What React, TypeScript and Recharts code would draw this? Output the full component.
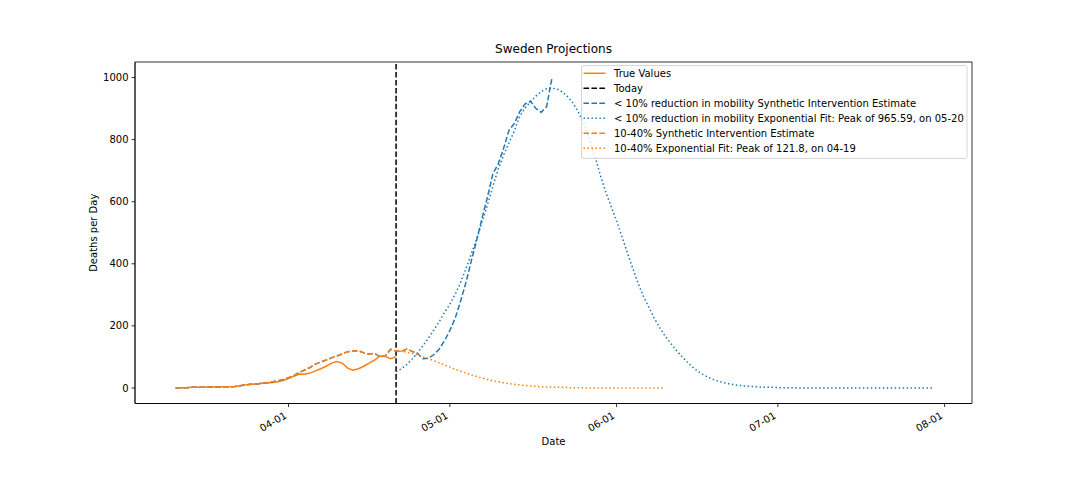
import { LineChart, Line, XAxis, YAxis, ReferenceLine, ReferenceArea } from "recharts"

// month-day labels -> days since 04-01
const monthStart: Record<string, number> = { "03": -31, "04": 0, "05": 30, "06": 61, "07": 91, "08": 122 }
const toDay = (md: string) => monthStart[md.slice(0, 2)] + Number(md.slice(3)) - 1

const tickLabels = ["04-01", "05-01", "06-01", "07-01", "08-01"]
const yTicks = [0, 200, 400, 600, 800, 1000]
const today = "04-21"

const trueStart = "03-11"
const trueValues = [
  1, 1, 1, 2, 2, 2, 3, 3, 3, 4, 4, 5, 7, 10, 12, 13,
  15, 16, 18, 20, 24, 30, 38, 45, 44, 48, 55, 62, 70, 80, 85, 80, 64, 57, 62, 70, 80, 90, 103, 101, 94, 101,
]

const siStart = "03-11"
const lowSIValues = [
  1, 1, 1, 2, 2, 2, 3, 3, 3, 4, 4, 5, 7, 10, 12, 13,
  15, 17, 20, 23, 27, 33, 40, 50, 58, 66, 77, 84, 90, 97, 103, 110, 117, 119, 120, 113, 109, 112, 100, 103, 125, 119, 118, 125, 118, 111,
  94, 96, 107, 125, 152, 185, 225, 280, 340, 410, 477, 548, 615, 690, 722, 772, 830, 852, 890, 915, 924, 900, 888, 907, 999,
]
const midSIValues = [
  1, 1, 1, 2, 2, 2, 3, 3, 3, 4, 4, 5, 7, 10, 12, 13,
  15, 17, 20, 23, 27, 33, 40, 50, 58, 66, 77, 84, 90, 97, 103, 110, 117, 119, 120, 113, 109, 112, 100, 103, 125, 119, 118, 125, 118, 111,
]

const fitStart = "04-21"
const lowFitValues = [
  52, 62, 76, 93, 113, 136, 160, 186, 213, 243, 270, 302, 340, 385, 432, 480, 535, 590, 650, 705, 750, 790, 828, 875, 902, 922, 940, 955, 964, 966,
  962, 953, 937, 915, 885, 850, 800, 745, 685, 630, 585, 538, 488, 436, 386, 338, 295, 260, 225, 195, 168, 145, 124, 104, 86, 69, 55, 44, 35, 27,
  21, 17, 13, 10, 8, 6, 5, 4, 3, 2, 2, 1, 1, 1, 1,
  0, 0, 0, 0, 0, 0, 0, 0, 0, 0, 0, 0, 0, 0, 0, 0, 0, 0, 0, 0, 0, 0, 0, 0, 0, 0,
]
const midFitValues = [
  120, 118, 115, 111, 106, 100, 94, 88, 81, 74, 67, 60, 54, 48, 42, 37, 32, 27, 23, 20, 17, 14, 12, 10, 8, 6, 5, 4, 3, 3,
  2, 2, 1, 1, 1, 1, 0, 0, 0, 0, 0, 0, 0, 0, 0, 0, 0, 0, 0, 0, 0,
]

const series = (start: string, values: number[]) =>
  values.map((value, i) => ({ day: toDay(start) + i, value }))

const blue = "#1f77b4"
const orange = "#ff7f0e"
const dashed = "5.55 2.4"
const dotted = "1.5 2.475"
const font = "'DejaVu Sans', sans-serif"

const xTicks = tickLabels.map(toDay)
const xDomain = [-28.55, 127.1]
const yDomain = [-50, 1050]

const legendItems = [
  { label: "True Values", color: orange, dash: undefined },
  { label: "Today", color: "#000", dash: dashed },
  { label: "< 10% reduction in mobility Synthetic Intervention Estimate", color: blue, dash: dashed },
  { label: "< 10% reduction in mobility Exponential Fit: Peak of 965.59, on 05-20", color: blue, dash: dotted },
  { label: "10-40% Synthetic Intervention Estimate", color: orange, dash: dashed },
  { label: "10-40% Exponential Fit: Peak of 121.8, on 04-19", color: orange, dash: dotted },
]

const DateTick = (props: any) => {
  const { x, y, payload } = props
  const ax = x - 1
  const ay = y + 8.5
  return (
    <text x={ax} y={ay} transform={`rotate(-30 ${ax} ${ay})`} textAnchor="end" fontSize={10} fill="#000" fontFamily={font}>
      {tickLabels[xTicks.indexOf(payload.value)]}
    </text>
  )
}

export default function App() {
  return (
    <div style={{ position: "absolute", left: 0, top: 0, width: 1080, height: 504, background: "#fff", fontFamily: font }}>
      <LineChart width={1080} height={504} margin={{ top: 62, right: 108, bottom: 60.5, left: 75 }}>
        <XAxis
          type="number"
          dataKey="day"
          domain={xDomain}
          allowDataOverflow
          ticks={xTicks}
          tick={<DateTick />}
          tickSize={3.5}
          height={40}
          stroke="#000"
          strokeWidth={0.8}
        />
        <YAxis
          type="number"
          domain={yDomain}
          allowDataOverflow
          ticks={yTicks}
          tickSize={3.5}
          tickMargin={3}
          width={60}
          stroke="#000"
          strokeWidth={0.8}
          tick={{ fill: "#000", fontSize: 10, fontFamily: font }}
        />
        <ReferenceArea x1={xDomain[0]} x2={xDomain[1]} y1={yDomain[0]} y2={yDomain[1]} fill="none" stroke="#000" strokeWidth={0.8} />
        <Line data={series(trueStart, trueValues)} dataKey="value" stroke={orange} strokeWidth={1.5} dot={false} isAnimationActive={false} />
        <ReferenceLine x={toDay(today)} stroke="#000" strokeWidth={1.5} strokeDasharray={dashed} />
        <Line data={series(siStart, lowSIValues)} dataKey="value" stroke={blue} strokeWidth={1.5} strokeDasharray={dashed} dot={false} isAnimationActive={false} />
        <Line data={series(fitStart, lowFitValues)} dataKey="value" stroke={blue} strokeWidth={1.5} strokeDasharray={dotted} dot={false} isAnimationActive={false} />
        <Line data={series(siStart, midSIValues)} dataKey="value" stroke={orange} strokeWidth={1.5} strokeDasharray={dashed} dot={false} isAnimationActive={false} />
        <Line data={series(fitStart, midFitValues)} dataKey="value" stroke={orange} strokeWidth={1.5} strokeDasharray={dotted} dot={false} isAnimationActive={false} />
      </LineChart>

      <svg width={1080} height={504} style={{ position: "absolute", left: 0, top: 0, pointerEvents: "none" }}>
        <text x={553.5} y={53} textAnchor="middle" fontSize={12} fill="#000" fontFamily={font}>Sweden Projections</text>
        <text x={553.5} y={445} textAnchor="middle" fontSize={10} fill="#000" fontFamily={font}>Date</text>
        <text x={96.5} y={232.75} transform="rotate(-90 96.5 232.75)" textAnchor="middle" fontSize={10} fill="#000" fontFamily={font}>
          Deaths per Day
        </text>
        <g transform="translate(581.5 65.5)">
          <rect x={0} y={0} width={385.5} height={93} rx={2} fill="rgba(255,255,255,0.8)" stroke="rgba(204,204,204,0.8)" strokeWidth={1} />
          {legendItems.map((item, i) => (
            <g key={item.label} transform={`translate(0 ${7.8 + i * 15})`}>
              <line x1={2} x2={24} y1={0} y2={0} stroke={item.color} strokeWidth={1.5} strokeDasharray={item.dash} />
              <text x={32.5} y={0} dy="0.35em" fontSize={10} fill="#000" fontFamily={font}>{item.label}</text>
            </g>
          ))}
        </g>
      </svg>
    </div>
  )
}
